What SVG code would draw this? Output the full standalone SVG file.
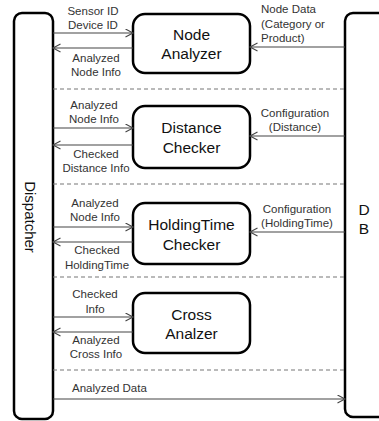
<svg xmlns="http://www.w3.org/2000/svg" width="379" height="421" viewBox="0 0 379 421">
<style>
.bar{fill:#fff;stroke:#000;stroke-width:2.5}
.box{fill:#fff;stroke:#000;stroke-width:2.5}
.nt{font-family:"Liberation Sans",Arial,sans-serif;font-size:15.5px;fill:#111;text-anchor:middle}
.lb{font-family:"Liberation Sans",Arial,sans-serif;font-size:11.5px;fill:#333;text-anchor:middle}
.ar{stroke:#444;stroke-width:1.2;fill:none;marker-end:url(#ah)}
.ds{stroke:#777;stroke-width:1.2;stroke-dasharray:4,3;fill:none}
</style>
<defs>
<marker id="ah" markerWidth="10" markerHeight="10" refX="8" refY="4.5" orient="auto" markerUnits="userSpaceOnUse">
<path d="M0.5,0.5 L8,4.5 L0.5,8.5" fill="none" stroke="#444" stroke-width="1.1"/>
</marker>
</defs>
<g id="dispatcher">
<rect class="bar" x="14" y="13" width="39" height="406" rx="8"/>
<text class="nt" font-size="15" transform="translate(30,217) rotate(90)" dominant-baseline="central" style="font-size:15px">Dispatcher</text>
</g>
<g id="db">
<rect class="bar" x="345" y="13" width="50" height="404" rx="8"/>
<text class="nt" x="364" y="215">D</text>
<text class="nt" x="364" y="234">B</text>
</g>
<g id="node-analyzer">
<rect class="box" x="133" y="14" width="117" height="59" rx="12"/>
<text class="nt" x="191.5" y="40">Node</text>
<text class="nt" x="191.5" y="59">Analyzer</text>
</g>
<g id="distance-checker">
<rect class="box" x="133" y="106" width="117" height="62" rx="12"/>
<text class="nt" x="191.5" y="133">Distance</text>
<text class="nt" x="191.5" y="153">Checker</text>
</g>
<g id="holdingtime-checker">
<rect class="box" x="133" y="203" width="117" height="61" rx="12"/>
<text class="nt" x="191.5" y="230">HoldingTime</text>
<text class="nt" x="191.5" y="250">Checker</text>
</g>
<g id="cross-analzer">
<rect class="box" x="133" y="293" width="117" height="60" rx="12"/>
<text class="nt" x="191.5" y="320">Cross</text>
<text class="nt" x="191.5" y="339">Analzer</text>
</g>
<g id="connectors">
<line class="ar" x1="53" y1="33" x2="133" y2="33"/>
<line class="ar" x1="133" y1="48" x2="53" y2="48"/>
<line class="ar" x1="345" y1="47" x2="250" y2="47"/>
<line class="ds" x1="53" y1="89" x2="345" y2="89"/>
<line class="ar" x1="53" y1="128" x2="133" y2="128"/>
<line class="ar" x1="133" y1="145" x2="53" y2="145"/>
<line class="ar" x1="345" y1="136" x2="250" y2="136"/>
<line class="ds" x1="53" y1="184" x2="345" y2="184"/>
<line class="ar" x1="53" y1="227" x2="133" y2="227"/>
<line class="ar" x1="133" y1="242" x2="53" y2="242"/>
<line class="ar" x1="345" y1="232" x2="250" y2="232"/>
<line class="ds" x1="53" y1="277" x2="345" y2="277"/>
<line class="ar" x1="53" y1="317" x2="133" y2="317"/>
<line class="ar" x1="133" y1="332" x2="53" y2="332"/>
<line class="ds" x1="53" y1="370" x2="345" y2="370"/>
<line class="ar" x1="53" y1="399" x2="345" y2="399"/>
</g>
<g id="labels">
<text class="lb" x="93" y="15">Sensor ID</text>
<text class="lb" x="93" y="29">Device ID</text>
<text class="lb" x="96" y="62">Analyzed</text>
<text class="lb" x="96" y="76">Node Info</text>
<text class="lb" x="261" y="13" style="text-anchor:start">Node Data</text>
<text class="lb" x="261" y="28" style="text-anchor:start">(Category or</text>
<text class="lb" x="261" y="42" style="text-anchor:start">Product)</text>
<text class="lb" x="94" y="109">Analyzed</text>
<text class="lb" x="94" y="123">Node Info</text>
<text class="lb" x="96" y="158">Checked</text>
<text class="lb" x="96" y="172">Distance Info</text>
<text class="lb" x="295" y="117">Configuration</text>
<text class="lb" x="295" y="131">(Distance)</text>
<text class="lb" x="95" y="207">Analyzed</text>
<text class="lb" x="95" y="221">Node Info</text>
<text class="lb" x="97" y="254">Checked</text>
<text class="lb" x="97" y="269">HoldingTime</text>
<text class="lb" x="297" y="213">Configuration</text>
<text class="lb" x="297" y="227">(HoldingTime)</text>
<text class="lb" x="95" y="298">Checked</text>
<text class="lb" x="95" y="313">Info</text>
<text class="lb" x="96" y="344">Analyzed</text>
<text class="lb" x="96" y="358">Cross Info</text>
<text class="lb" x="72" y="392" style="text-anchor:start">Analyzed  Data</text>
</g>
</svg>
